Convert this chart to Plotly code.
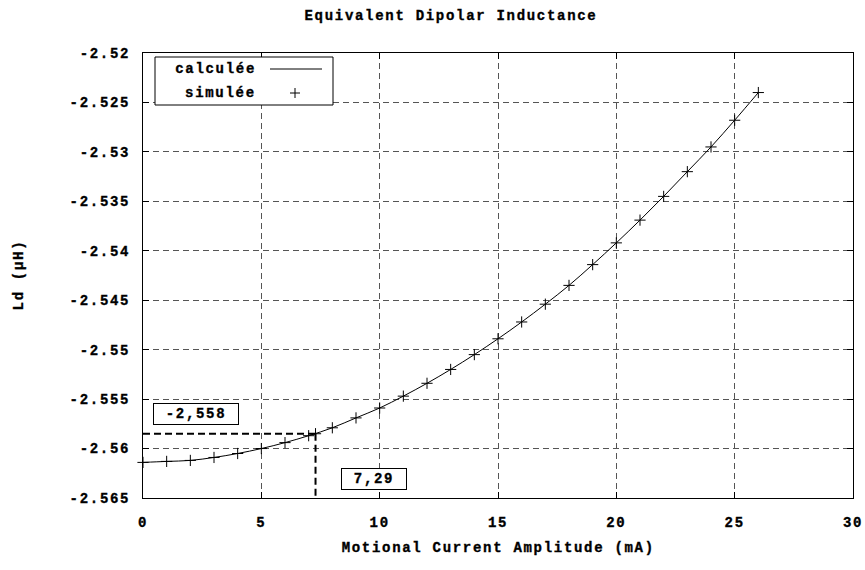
import plotly.graph_objects as go

# Motional current amplitude (mA) and equivalent dipolar inductance Ld (µH)
current_ma = list(range(0, 27))
ld_simulated = [
    -2.5614, -2.5613, -2.5612, -2.5609, -2.5605, -2.5600, -2.5594, -2.5587,
    -2.5579, -2.5569, -2.5559, -2.5547, -2.5534, -2.5520, -2.5505, -2.5489,
    -2.5472, -2.5454, -2.5435, -2.5414, -2.5392, -2.5369, -2.5345, -2.5320,
    -2.5295, -2.5268, -2.5240,
]
ld_calculated = [
    -2.5614, -2.5613, -2.5612, -2.5609, -2.5605, -2.5600, -2.5594, -2.5587,
    -2.5579, -2.5569, -2.5559, -2.5547, -2.5534, -2.5520, -2.5505, -2.5489,
    -2.5472, -2.5454, -2.5435, -2.5414, -2.5392, -2.5369, -2.5345, -2.5320,
    -2.5295, -2.5268, -2.5240,
]

# Highlighted operating point
point_current = 7.29
point_ld = -2.5585

x_ticks = [0, 5, 10, 15, 20, 25, 30]
x_tick_labels = ["0", "5", "10", "15", "20", "25", "30"]
y_ticks = [-2.52, -2.525, -2.53, -2.535, -2.54, -2.545, -2.55, -2.555, -2.56, -2.565]
y_tick_labels = ["-2.52", "-2.525", "-2.53", "-2.535", "-2.54", "-2.545",
                 "-2.55", "-2.555", "-2.56", "-2.565"]

FONT = "Liberation Mono, Courier New, monospace"
FSIZE = 14
BLACK = "#000000"
GRID = "#555555"

x_min, x_max = x_ticks[0], x_ticks[-1]
y_min, y_max = min(y_ticks), max(y_ticks)

W, H = 865, 570
ML, MR, MT, MB = 143, 12, 53, 72
PW, PH = W - ML - MR, H - MT - MB


def px(x):
    return (x - ML) / PW


def py(y):
    return 1 - (y - MT) / PH


fig = go.Figure()

fig.add_trace(go.Scatter(
    x=current_ma, y=ld_calculated, mode="lines", name="calculée",
    line=dict(color=BLACK, width=1, shape="spline"), showlegend=False,
))
fig.add_trace(go.Scatter(
    x=current_ma, y=ld_simulated, mode="markers", name="simulée",
    marker=dict(symbol="cross-thin", size=8, color=BLACK,
                line=dict(color=BLACK, width=1)),
    cliponaxis=False, showlegend=False,
))
fig.add_trace(go.Scatter(
    x=[point_current], y=[point_ld], mode="markers",
    marker=dict(symbol="cross-thin", size=8, color=BLACK,
                line=dict(color=BLACK, width=1)),
    cliponaxis=False, showlegend=False,
))

tick_font = dict(family=FONT, size=FSIZE, color=BLACK, weight="bold")
axis_common = dict(
    showline=True, linecolor=BLACK, linewidth=1, mirror="ticks",
    ticks="inside", ticklen=6, tickwidth=1, tickcolor=BLACK,
    showgrid=True, gridcolor=GRID, gridwidth=1, griddash="6px,4px",
    zeroline=False, tickfont=tick_font, automargin=False,
)

fig.update_xaxes(range=[x_min, x_max], tickmode="array", tickvals=x_ticks,
                 ticktext=x_tick_labels, ticklabelstandoff=11, **axis_common)
fig.update_yaxes(range=[y_min, y_max], tickmode="array", tickvals=y_ticks,
                 ticktext=y_tick_labels, ticklabelstandoff=9, **axis_common)

# Guide lines to the highlighted point
shapes = [
    dict(type="line", xref="x", yref="y", x0=x_min, x1=point_current,
         y0=point_ld, y1=point_ld, line=dict(color=BLACK, width=2, dash="7px,4px")),
    dict(type="line", xref="x", yref="y", x0=point_current, x1=point_current,
         y0=point_ld, y1=y_min, line=dict(color=BLACK, width=2, dash="7px,4px")),
]

# Key box (text on the left, sample on the right)
arm_x, arm_y = 5 / PW, 5 / PH
shapes += [
    dict(type="rect", xref="paper", yref="paper", x0=px(155), x1=px(333),
         y0=py(105), y1=py(57), line=dict(color=BLACK, width=1), fillcolor="white"),
    dict(type="line", xref="paper", yref="paper", x0=px(270), x1=px(322),
         y0=py(69), y1=py(69), line=dict(color=BLACK, width=1)),
    dict(type="line", xref="paper", yref="paper", x0=px(295) - arm_x, x1=px(295) + arm_x,
         y0=py(93), y1=py(93), line=dict(color=BLACK, width=1)),
    dict(type="line", xref="paper", yref="paper", x0=px(295), x1=px(295),
         y0=py(93) - arm_y, y1=py(93) + arm_y, line=dict(color=BLACK, width=1)),
]

label_font = dict(family=FONT, size=FSIZE, color=BLACK, weight="bold")
ld_label = f"{point_ld:.4f}"[:-1].replace(".", ",")
current_label = f"{point_current:.2f}".replace(".", ",")

annotations = [
    dict(text="calculée", xref="paper", yref="paper", x=px(215), y=py(69),
         xanchor="center", yanchor="middle", showarrow=False, font=label_font),
    dict(text="simulée", xref="paper", yref="paper", x=px(220), y=py(93),
         xanchor="center", yanchor="middle", showarrow=False, font=label_font),
    dict(text=ld_label, xref="paper", yref="paper", x=px(196), y=py(414),
         xanchor="center", yanchor="middle",
         showarrow=False, font=label_font, bgcolor="white", bordercolor=BLACK,
         borderwidth=1, borderpad=2, width=80, height=16),
    dict(text=current_label, xref="paper", yref="paper", x=px(374), y=py(478.5),
         xanchor="center", yanchor="middle",
         showarrow=False, font=label_font, bgcolor="white", bordercolor=BLACK,
         borderwidth=1, borderpad=2, width=60, height=16),
    dict(text="Motional Current Amplitude (mA)", xref="paper", yref="paper",
         x=px(498), y=py(548), xanchor="center", yanchor="middle",
         showarrow=False, font=label_font),
    dict(text="Ld (µH)", xref="paper", yref="paper", x=px(18), y=0.5,
         xanchor="center", yanchor="middle", textangle=-90,
         showarrow=False, font=label_font),
]

fig.update_layout(
    width=W, height=H,
    margin=dict(l=ML, r=MR, t=MT, b=MB, autoexpand=False),
    paper_bgcolor="white", plot_bgcolor="white",
    font=dict(family=FONT, size=FSIZE, color=BLACK, weight="bold"),
    title=dict(text="Equivalent Dipolar Inductance", x=px(451), xref="paper",
               xanchor="center", y=1 - 15 / H, yref="container", yanchor="middle",
               font=dict(family=FONT, size=FSIZE, color=BLACK, weight="bold")),
    shapes=shapes, annotations=annotations, showlegend=False,
)

# Wider, heavier monospace labels
spacing_css = (
    "var s=document.createElement('style');"
    "s.textContent='svg text{letter-spacing:1.7px;stroke:#000;stroke-width:0.35px;}';"
    "document.head.appendChild(s);"
)

fig.write_html("out.html", post_script=spacing_css)
